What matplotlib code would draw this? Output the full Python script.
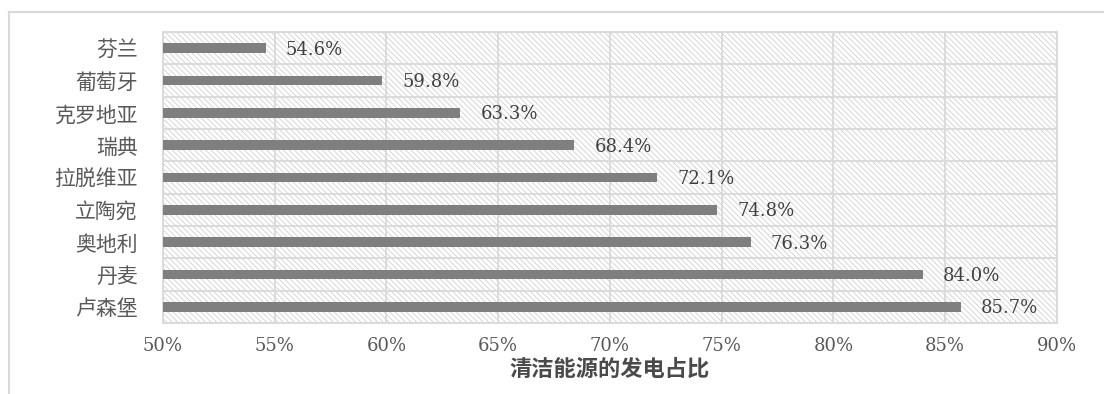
import matplotlib.pyplot as plt
from matplotlib.patches import Rectangle
from matplotlib.lines import Line2D

# data (top to bottom)
countries = ['芬兰', '葡萄牙', '克罗地亚', '瑞典', '拉脱维亚', '立陶宛', '奥地利', '丹麦', '卢森堡']
shares = [54.6, 59.8, 63.3, 68.4, 72.1, 74.8, 76.3, 84.0, 85.7]
xticks = [50, 55, 60, 65, 70, 75, 80, 85, 90]
xlabel = '清洁能源的发电占比'

grid_col = '#d9d9d9'
text_col = '#595959'
bar_col = '#7f7f7f'

plt.rcParams['hatch.linewidth'] = 0.6
cjk = ['Noto Sans CJK SC', 'DejaVu Sans']
num = ['DejaVu Serif']

fig = plt.figure(figsize=(11.04, 3.94), dpi=100)
ax = fig.add_axes([0.1476, 0.1802, 0.8098, 0.7386])

y = list(range(len(countries)))
ax.barh(y, shares, height=0.3, color=bar_col, zorder=3)
ax.set_xlim(50, 90)
ax.set_ylim(len(countries) - 0.5, -0.5)

# hatched background
ax.add_patch(Rectangle((0, 0), 1, 1, transform=ax.transAxes, facecolor='none',
                       edgecolor='#d0d0d0', linewidth=0, hatch='\\\\\\\\\\\\', zorder=0))

ax.set_xticks(xticks)
ax.set_xticklabels([f'{t}%' for t in xticks], family=num, fontsize=13, color=text_col)
ax.set_yticks(y)
ax.set_yticklabels(countries, family=cjk, fontsize=15, color=text_col)
ax.set_yticks([i + 0.5 for i in range(-1, len(countries))], minor=True)
ax.tick_params(axis='both', which='both', length=0)
ax.tick_params(axis='y', pad=18)
ax.tick_params(axis='x', pad=10)

ax.grid(axis='x', color=grid_col, linewidth=1.3, zorder=1)
ax.grid(axis='y', which='minor', color=grid_col, linewidth=1.3, zorder=1)
ax.set_axisbelow(True)
for s in ax.spines.values():
    s.set_color(grid_col)
    s.set_linewidth(1.3)

for yi, v in zip(y, shares):
    ax.text(v + 0.9, yi + 0.05, f'{v:.1f}%', va='center', ha='left',
            family=num, fontsize=13, color='#404040', zorder=4)

ax.set_xlabel(xlabel, family=cjk, fontsize=16, fontweight='bold', color='#4a4a4a', labelpad=2)

# outer chart frame (cut off at right and bottom)
fig.add_artist(Line2D([0.00815, 1.0], [0.9695, 0.9695], transform=fig.transFigure,
                      color=grid_col, linewidth=1.5))
fig.add_artist(Line2D([0.00815, 0.00815], [0.0, 0.9695], transform=fig.transFigure,
                      color=grid_col, linewidth=1.5))

fig.savefig('out.png', dpi=100)
